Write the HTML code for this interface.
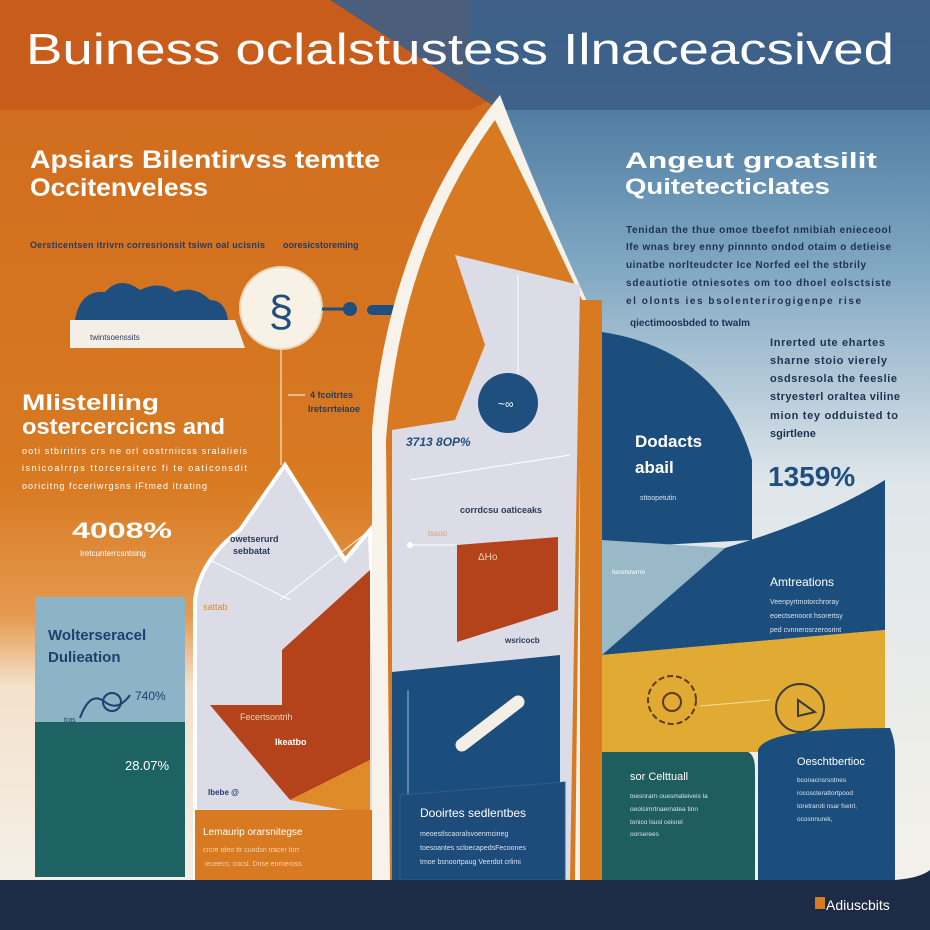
<!DOCTYPE html>
<html><head><meta charset="utf-8"><style>
html,body{margin:0;padding:0;width:930px;height:930px;overflow:hidden}
svg{display:block}
text{font-family:"Liberation Sans",sans-serif}
</style></head><body>
<svg width="930" height="930" viewBox="0 0 930 930" xmlns="http://www.w3.org/2000/svg">
<defs>
<linearGradient id="blueg" x1="0" y1="0" x2="0" y2="1">
<stop offset="0" stop-color="#3c5f88"/><stop offset="0.12" stop-color="#4f7ca3"/><stop offset="0.3" stop-color="#7fa7c2"/><stop offset="0.55" stop-color="#dfe6ea"/><stop offset="1" stop-color="#f4f1ea"/>
</linearGradient>
<linearGradient id="orag" x1="0" y1="0" x2="0" y2="1">
<stop offset="0" stop-color="#d06a1e"/><stop offset="0.55" stop-color="#d87a22"/><stop offset="0.7" stop-color="#e59a50"/><stop offset="0.78" stop-color="#f3e2cc"/><stop offset="1" stop-color="#f4efe6"/>
</linearGradient>
</defs>
<rect width="930" height="930" fill="#f4f1ea"/>
<rect x="0" y="0" width="930" height="880" fill="url(#blueg)"/>
<path d="M0 0 H330 L500 95 L430 330 L380 880 H0 Z" fill="url(#orag)"/>
<rect x="0" y="0" width="470" height="110" fill="#c85c1a"/>
<path d="M330 0 L500 95 L470 110 L470 0Z" fill="#c85c1a"/>
<path d="M330 0 H930 V110 H500 Z" fill="#3d5f88" opacity="0.9"/>
<text x="26" y="64" font-size="44" fill="#fff" textLength="868" lengthAdjust="spacingAndGlyphs">Buiness oclalstustess Ilnaceacsived</text>
<text x="30" y="168" font-size="25" font-weight="bold" fill="#fff" textLength="350" lengthAdjust="spacingAndGlyphs">Apsiars Bilentirvss temtte</text>
<text x="30" y="196" font-size="25" font-weight="bold" fill="#fff" textLength="178" lengthAdjust="spacingAndGlyphs">Occitenveless</text>
<text x="30" y="248" font-size="9" font-weight="bold" fill="#2a3a5a" textLength="235">Oersticentsen itrivrn corresrionsit tsiwn oal ucisnis</text>
<text x="283" y="248" font-size="9" font-weight="bold" fill="#2a3a5a">ooresicstoreming</text>
<path d="M75 320 Q80 290 105 292 Q120 275 140 290 Q160 280 175 292 Q195 285 210 300 Q225 300 228 320 Z" fill="#1f4f7e"/>
<path d="M70 320 H235 L245 348 H70 Z" fill="#f4efe6"/>
<text x="90" y="340" font-size="8" fill="#2a3a5a">twintsoenssits</text>
<circle cx="281" cy="308" r="41" fill="#f7f1e6" stroke="#e8d6b8" stroke-width="2"/>
<text x="281" y="326" font-size="44" text-anchor="middle" fill="#1f4f7e">§</text>
<line x1="322" y1="309" x2="355" y2="309" stroke="#1f4f7e" stroke-width="3"/>
<circle cx="350" cy="309" r="7" fill="#1f4f7e"/>
<line x1="372" y1="310" x2="395" y2="310" stroke="#1f4f7e" stroke-width="10" stroke-linecap="round"/>
<line x1="281" y1="349" x2="281" y2="465" stroke="#f0d0a8" stroke-width="1.5"/>
<line x1="288" y1="395" x2="305" y2="395" stroke="#f0d0a8" stroke-width="1.5"/>
<text x="310" y="398" font-size="9" font-weight="bold" fill="#2a3a5a">4 fcoitrtes</text>
<text x="308" y="412" font-size="9" font-weight="bold" fill="#2a3a5a">Iretsrrteiaoe</text>
<text x="22" y="410" font-size="22" font-weight="bold" fill="#fff" textLength="137" lengthAdjust="spacingAndGlyphs">Mlistelling</text>
<text x="22" y="434" font-size="22" font-weight="bold" fill="#fff" textLength="203" lengthAdjust="spacingAndGlyphs">ostercercicns and</text>
<text x="22" y="454" font-size="9" fill="#fff" textLength="225">ooti stbiritirs crs ne orl oostrniicss sralalieis</text>
<text x="22" y="471" font-size="9" fill="#fff" textLength="225">isnicoalrrps ttorcersiterc fi te oaticonsdit</text>
<text x="22" y="489" font-size="9" fill="#fff" textLength="185">ooricitng fcceriwrgsns iFtmed itrating</text>
<text x="72" y="538" font-size="22" font-weight="bold" fill="#fff" textLength="100" lengthAdjust="spacingAndGlyphs">4008%</text>
<text x="80" y="556" font-size="8" fill="#fff">Iretcunterrcsntsing</text>
<rect x="35" y="597" width="150" height="128" fill="#8db3c6"/>
<rect x="35" y="722" width="150" height="155" fill="#1e6363"/>
<text x="48" y="640" font-size="15" font-weight="bold" fill="#1f3f6e">Wolterseracel</text>
<text x="48" y="662" font-size="15" font-weight="bold" fill="#1f3f6e">Dulieation</text>
<path d="M80 718 Q90 690 105 702 Q118 712 130 695" fill="none" stroke="#1f3f6e" stroke-width="2"/>
<circle cx="112" cy="702" r="9" fill="none" stroke="#1f3f6e" stroke-width="2"/>
<text x="135" y="700" font-size="12" fill="#1f3f6e">740%</text>
<text x="64" y="722" font-size="7" fill="#1f3f6e">tras</text>
<text x="125" y="770" font-size="13" fill="#fff">28.07%</text>
<path d="M195 600 Q200 560 240 530 L285 465 L345 560 L370 530 L380 880 H195 Z" fill="#dcdce6" stroke="#fff" stroke-width="4"/>
<path d="M282 650 L370 570 V705 H282 Z" fill="#b4431c"/>
<path d="M210 705 H370 V760 L290 800 Z" fill="#b4431c"/>
<path d="M290 800 L370 760 V815 Z" fill="#e08a2a"/>
<line x1="210" y1="560" x2="290" y2="600" stroke="#fff" stroke-width="1"/>
<line x1="280" y1="600" x2="370" y2="530" stroke="#fff" stroke-width="1"/>
<text x="230" y="542" font-size="9" font-weight="bold" fill="#2a3a5a">owetserurd</text>
<text x="233" y="554" font-size="9" font-weight="bold" fill="#2a3a5a">sebbatat</text>
<text x="203" y="610" font-size="9" fill="#e08a2a">sattab</text>
<text x="240" y="720" font-size="9" fill="#f4d2b0">Fecertsontrih</text>
<text x="275" y="745" font-size="9" font-weight="bold" fill="#fff">Ikeatbo</text>
<text x="208" y="795" font-size="8" font-weight="bold" fill="#1f3f6e">Ibebe @</text>
<text x="333" y="800" font-size="8" fill="#e08a2a">uoo</text>
<rect x="195" y="810" width="178" height="70" fill="#d87a22"/>
<text x="203" y="835" font-size="10" fill="#fff">Lemaurip orarsnitegse</text>
<text x="203" y="852" font-size="7" fill="#f4d2b0">crcre tdeo ttr cuodsn tracer ttrrr</text>
<text x="205" y="866" font-size="7" fill="#f4d2b0">ieceecs; cocsl. Dnse enrneross</text>
<path d="M372 430 Q390 230 500 95 Q540 200 600 330 L598 880 H372 Z" fill="#f7f3ea"/>
<path d="M386 440 Q400 250 495 120 Q540 210 582 300 L575 880 H390 Z" fill="#d87a22"/>
<path d="M392 870 V430 L455 420 L485 345 L455 255 L580 285 L570 880 Z" fill="#dcdce6"/>
<line x1="518" y1="275" x2="518" y2="420" stroke="#fff" stroke-width="1"/>
<line x1="410" y1="480" x2="570" y2="455" stroke="#fff" stroke-width="1"/>
<line x1="410" y1="545" x2="455" y2="545" stroke="#fff" stroke-width="1"/>
<circle cx="410" cy="545" r="3" fill="#fff"/>
<circle cx="508" cy="403" r="30" fill="#1f4f7e"/>
<text x="498" y="408" font-size="12" fill="#fff">~∞</text>
<text x="406" y="446" font-size="12" font-style="italic" font-weight="bold" fill="#1f4f7e">3713 8OP%</text>
<text x="460" y="513" font-size="9" font-weight="bold" fill="#2a3a5a">corrdcsu oaticeaks</text>
<text x="428" y="536" font-size="8" fill="#e0a060">tssoo</text>
<path d="M457 545 L558 537 V610 L457 642 Z" fill="#b4431c"/>
<text x="478" y="560" font-size="10" fill="#f4d2b0">ΔHo</text>
<text x="505" y="643" font-size="8" font-weight="bold" fill="#2a3a5a">wsricocb</text>
<path d="M392 672 L560 655 V880 H392 Z" fill="#1b4e7c"/>
<line x1="408" y1="690" x2="408" y2="870" stroke="#9bb8d0" stroke-width="1"/>
<line x1="462" y1="745" x2="518" y2="702" stroke="#f4efe6" stroke-width="13" stroke-linecap="round"/>
<path d="M400 795 L565 782 V880 H400 Z" fill="#1d4c7a" stroke="#2d5f8c"/>
<text x="420" y="817" font-size="12" fill="#fff">Dooirtes sedlentbes</text>
<text x="420" y="836" font-size="7" fill="#d8e2ee">meoestlscaoralsvoenmcineg</text>
<text x="420" y="850" font-size="7" fill="#d8e2ee">toesoantes scloecapedsFecoones</text>
<text x="420" y="864" font-size="7" fill="#d8e2ee">tmoe bsnoortpaug Veerdot crlimi</text>
<rect x="580" y="300" width="22" height="580" fill="#d87a22"/>
<text x="625" y="168" font-size="22" font-weight="bold" fill="#fff" textLength="252" lengthAdjust="spacingAndGlyphs">Angeut groatsilit</text>
<text x="625" y="194" font-size="22" font-weight="bold" fill="#fff" textLength="205" lengthAdjust="spacingAndGlyphs">Quitetecticlates</text>
<g font-size="10" fill="#1f3050" font-weight="bold">
<text x="626" y="233" textLength="265">Tenidan the thue omoe tbeefot nmibiah enieceool</text>
<text x="626" y="250" textLength="265">Ife wnas brey enny pinnnto ondod otaim o detieise</text>
<text x="626" y="268" textLength="240">uinatbe norlteudcter Ice Norfed eel the stbrily</text>
<text x="626" y="286" textLength="265">sdeautiotie otniesotes om too dhoel eolsctsiste</text>
<text x="626" y="304" textLength="235">el olonts ies bsolenterirogigenpe rise</text>
<text x="630" y="326">qiectimoosbded to twalm</text>
</g>
<path d="M602 332 Q720 350 752 460 V540 L602 548 Z" fill="#1b4e7c"/>
<text x="635" y="447" font-size="17" font-weight="bold" fill="#fff">Dodacts</text>
<text x="635" y="473" font-size="17" font-weight="bold" fill="#fff">abail</text>
<text x="640" y="500" font-size="7" fill="#d8e2ee">sttoopetutin</text>
<g font-size="11" fill="#1f3050" font-weight="bold">
<text x="770" y="346" textLength="115">Inrerted ute ehartes</text>
<text x="770" y="364" textLength="117">sharne stoio vierely</text>
<text x="770" y="382" textLength="127">osdsresola the feeslie</text>
<text x="770" y="400" textLength="130">stryesterl oraltea viline</text>
<text x="770" y="419" textLength="128">mion tey odduisted to</text>
<text x="770" y="437">sgirtlene</text>
</g>
<text x="768" y="486" font-size="28" font-weight="bold" fill="#1f4f7e">1359%</text>
<path d="M602 550 L725 548 Q820 520 885 480 V630 L602 655 Z" fill="#1b4e7c"/>
<path d="M602 540 L725 548 L602 655 Z" fill="#9ab9c8"/>
<text x="612" y="574" font-size="6" fill="#fff">ltanshowrrre</text>
<text x="770" y="586" font-size="12" fill="#fff">Amtreations</text>
<g font-size="7" fill="#d8e2ee">
<text x="770" y="604">Veenpyrtmotorchroray</text>
<text x="770" y="618">eoectsenoont hsorertsy</text>
<text x="770" y="632">ped cvnnerosrzerosrint</text>
<text x="770" y="645">eoerppotitoscrsd</text>
</g>
<path d="M602 655 L885 630 V752 H602 Z" fill="#e1aa33"/>
<circle cx="672" cy="700" r="24" fill="none" stroke="#5a3a20" stroke-width="2" stroke-dasharray="6 3"/>
<circle cx="672" cy="702" r="9" fill="none" stroke="#5a3a20" stroke-width="2"/>
<circle cx="800" cy="708" r="24" fill="none" stroke="#3a3a3a" stroke-width="2"/>
<path d="M798 700 L815 712 L798 716 Z" fill="none" stroke="#3a3a3a" stroke-width="2"/>
<line x1="700" y1="706" x2="770" y2="700" stroke="#f4dca0" stroke-width="1"/>
<path d="M602 752 H748 Q755 755 755 770 V880 H602 Z" fill="#1e5e5e"/>
<path d="M758 750 Q765 728 890 728 Q895 740 895 752 V880 H758 Z" fill="#1b4e7c"/>
<text x="630" y="780" font-size="11" fill="#fff">sor  Celttuall</text>
<g font-size="6.5" fill="#d8e2ee">
<text x="630" y="798">toesnrarn ouesmateiveis la</text>
<text x="630" y="811">oeolsimrtnaernatea tinn</text>
<text x="630" y="824">tonico lsusl ceisrel</text>
<text x="630" y="836">oorserees</text>
</g>
<text x="797" y="765" font-size="11" fill="#fff">Oeschtbertioc</text>
<g font-size="6.5" fill="#d8e2ee">
<text x="797" y="782">bconacnsrsotnes</text>
<text x="797" y="795">rocoscterattortpood</text>
<text x="797" y="808">toretraroti nsar fsetrl,</text>
<text x="797" y="821">ocosnnurek,</text>
</g>
<path d="M0 880 H895 Q920 878 930 870 V930 H0 Z" fill="#1e2b47"/>
<rect x="815" y="897" width="10" height="12" fill="#d87a22"/>
<text x="826" y="910" font-size="14" fill="#fff">Adiuscbits</text>
</svg>
</body></html>
